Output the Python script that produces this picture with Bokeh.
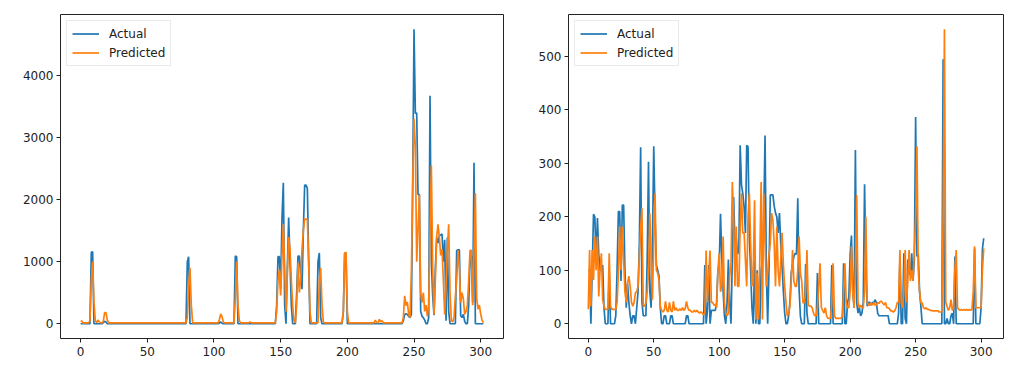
from bokeh.plotting import figure
from bokeh.layouts import row
from bokeh.models import Range1d, Legend, LegendItem, FixedTicker
from bokeh.embed import file_html
from bokeh.resources import INLINE

series_labels = ["Actual", "Predicted"]
x_ticks = [0, 50, 100, 150, 200, 250, 300]
left_y_ticks = [0, 1000, 2000, 3000, 4000]
right_y_ticks = [0, 100, 200, 300, 400, 500]

left_actual = [
    0, 0, 0, 0, 0, 0, 0, 0, 1150, 1160, 0, 0, 0, 0, 0, 0, 0, 20, 40, 30,
    0, 0, 0, 0, 0, 0, 0, 0, 0, 0, 0, 0, 0, 0, 0, 0, 0, 0, 0, 0,
    0, 0, 0, 0, 0, 0, 0, 0, 0, 0, 0, 0, 0, 0, 0, 0, 0, 0, 0, 0,
    0, 0, 0, 0, 0, 0, 0, 0, 0, 0, 0, 0, 0, 0, 0, 0, 0, 0, 0, 0,
    1000, 1080, 0, 0, 0, 0, 0, 0, 0, 0, 0, 0, 0, 0, 0, 0, 0, 0, 0, 0,
    0, 0, 0, 0, 10, 30, 10, 0, 0, 0, 0, 0, 0, 0, 0, 0, 1090, 1080, 0, 0,
    0, 0, 0, 0, 0, 0, 0, 0, 0, 0, 0, 0, 0, 0, 0, 0, 0, 0, 0, 0,
    0, 0, 0, 0, 0, 0, 0, 300, 1080, 1082, 556, 1700, 2270, 300, 0, 900, 1710, 1000, 300, 0,
    0, 0, 500, 1090, 1090, 800, 556, 1500, 2230, 2230, 2180, 1000, 0, 0, 0, 0, 0, 0, 1000, 1140,
    100, 0, 0, 0, 0, 0, 0, 0, 0, 0, 0, 0, 0, 0, 0, 0, 0, 200, 1140, 1130,
    0, 0, 0, 0, 0, 0, 0, 0, 0, 0, 0, 0, 0, 0, 0, 0, 0, 0, 0, 0,
    0, 0, 0, 0, 0, 0, 0, 0, 0, 0, 0, 0, 0, 0, 0, 0, 0, 0, 0, 0,
    0, 0, 50, 150, 160, 150, 120, 100, 150, 2200, 4740, 3390, 3390, 2080, 2080, 200, 120, 100, 60, 0,
    0, 100, 3669, 1000, 450, 137, 900, 1390, 1300, 1420, 1430, 1446, 1000, 1350, 50, 1390, 200, 0, 0, 0,
    0, 0, 1180, 1190, 1190, 130, 100, 150, 40, 0, 0, 300, 1100, 1100, 340, 2590, 0, 0, 0, 0,
    0, 0, 0,
]

left_predicted = [
    50, 40, 10, 15, 15, 15, 15, 50, 700, 1000, 350, 50, 20, 60, 30, 15, 15, 40, 180, 180,
    60, 15, 15, 15, 15, 15, 15, 15, 15, 15, 15, 15, 15, 15, 15, 15, 15, 15, 15, 15,
    15, 15, 15, 15, 15, 15, 15, 15, 15, 15, 15, 15, 15, 15, 15, 15, 15, 15, 15, 15,
    15, 15, 15, 15, 15, 15, 15, 15, 15, 15, 15, 15, 15, 15, 15, 15, 15, 15, 15, 15,
    100, 600, 900, 300, 15, 15, 15, 15, 15, 15, 15, 15, 15, 15, 15, 15, 15, 15, 15, 15,
    15, 15, 15, 15, 60, 160, 120, 30, 15, 15, 15, 15, 15, 15, 15, 15, 400, 1000, 300, 50,
    15, 15, 15, 15, 15, 15, 15, 30, 15, 15, 15, 15, 15, 15, 15, 15, 15, 15, 15, 15,
    15, 15, 15, 15, 15, 15, 15, 200, 700, 870, 457, 1100, 1606, 900, 194, 800, 1396, 1200, 700, 300,
    50, 15, 300, 976, 504, 700, 1200, 1500, 1685, 1685, 1685, 1000, 200, 15, 15, 15, 15, 15, 15, 700,
    900, 300, 30, 15, 15, 15, 15, 15, 15, 15, 15, 15, 15, 15, 15, 15, 15, 200, 1140, 1150,
    200, 15, 15, 15, 15, 15, 15, 15, 15, 15, 15, 15, 15, 15, 15, 15, 15, 15, 15, 15,
    15, 60, 20, 15, 70, 30, 50, 15, 15, 15, 15, 15, 15, 15, 15, 15, 15, 15, 15, 15,
    15, 15, 100, 450, 290, 350, 150, 100, 800, 2200, 3300, 2860, 1000, 1500, 2074, 500, 340, 500, 200, 300,
    120, 300, 1500, 2546, 900, 150, 700, 1400, 1600, 1391, 1100, 1200, 700, 150, 600, 1200, 1600, 500, 50, 30,
    100, 446, 700, 1181, 900, 340, 500, 400, 150, 200, 300, 700, 1181, 1181, 300, 1200, 2100, 400, 236, 300,
    157, 60, 20,
]

right_actual = [
    100, 100, 0, 100, 205, 200, 120, 198, 130, 100, 100, 110, 30, 0, 0, 0, 100, 0, 0, 0,
    0, 15, 100, 210, 210, 80, 222, 222, 100, 30, 75, 40, 15, 0, 15, 15, 0, 30, 60, 150,
    330, 40, 15, 15, 15, 120, 303, 60, 30, 150, 332, 200, 110, 100, 90, 30, 0, 0, 15, 15,
    0, 0, 0, 15, 15, 0, 0, 0, 0, 0, 0, 0, 0, 0, 0, 15, 15, 0, 0, 0,
    0, 0, 0, 0, 0, 0, 0, 0, 0, 110, 0, 25, 110, 0, 25, 25, 25, 25, 40, 100,
    110, 206, 120, 60, 15, 0, 40, 120, 40, 0, 120, 237, 150, 160, 130, 138, 334, 260, 244, 219,
    170, 334, 331, 163, 100, 30, 0, 120, 0, 100, 0, 0, 100, 120, 200, 352, 95, 0, 100, 241,
    241, 241, 220, 207, 200, 170, 207, 150, 107, 60, 20, 0, 0, 15, 40, 95, 110, 126, 132, 130,
    235, 64, 14, 0, 0, 0, 112, 20, 0, 0, 0, 0, 0, 0, 0, 95, 0, 0, 0, 0,
    0, 0, 0, 0, 0, 0, 110, 0, 0, 0, 0, 0, 0, 0, 0, 113, 0, 0, 40, 50,
    130, 165, 60, 30, 325, 39, 20, 30, 15, 20, 40, 261, 101, 33, 40, 40, 35, 40, 39, 45,
    40, 20, 15, 15, 15, 15, 15, 15, 15, 15, 0, 0, 0, 0, 0, 0, 0, 20, 120, 0,
    0, 132, 10, 0, 120, 100, 90, 132, 80, 120, 387, 126, 130, 60, 33, 0, 0, 0, 0, 0,
    0, 0, 0, 0, 0, 0, 0, 0, 0, 0, 0, 495, 0, 0, 10, 0, 0, 15, 20, 0,
    126, 0, 0, 0, 0, 0, 0, 0, 0, 0, 0, 0, 0, 0, 0, 141, 0, 0, 0, 0,
    30, 140, 160,
]

right_predicted = [
    27, 138, 33, 138, 82, 163, 100, 163, 51, 100, 132, 45, 33, 27, 27, 27, 132, 33, 27, 27,
    27, 27, 40, 95, 182, 100, 182, 120, 60, 40, 76, 89, 70, 40, 33, 40, 58, 60, 70, 126,
    180, 216, 33, 33, 39, 60, 95, 207, 120, 45, 150, 244, 100, 95, 82, 33, 25, 22, 25, 42,
    25, 22, 40, 25, 22, 42, 25, 30, 25, 25, 28, 25, 30, 25, 28, 42, 30, 25, 25, 22,
    22, 25, 22, 25, 22, 20, 22, 20, 17, 20, 137, 40, 90, 137, 40, 40, 35, 35, 30, 100,
    132, 60, 70, 163, 40, 20, 15, 20, 90, 110, 265, 200, 70, 182, 70, 70, 180, 244, 170, 170,
    120, 70, 200, 244, 150, 70, 100, 231, 8, 95, 8, 120, 265, 8, 244, 150, 70, 95, 130, 150,
    207, 194, 150, 70, 182, 100, 70, 120, 170, 110, 70, 40, 14, 20, 33, 80, 138, 80, 70, 70,
    100, 163, 95, 80, 39, 40, 60, 138, 35, 33, 33, 30, 20, 15, 15, 30, 70, 113, 30, 25,
    20, 30, 15, 10, 10, 10, 40, 113, 15, 10, 10, 10, 10, 10, 14, 60, 113, 40, 30, 30,
    60, 145, 60, 30, 100, 241, 40, 30, 35, 30, 30, 60, 200, 40, 35, 35, 39, 35, 40, 35,
    35, 40, 38, 42, 42, 38, 35, 40, 30, 30, 28, 24, 24, 22, 24, 30, 40, 40, 138, 40,
    30, 60, 138, 40, 80, 138, 80, 100, 80, 138, 200, 332, 101, 60, 39, 39, 30, 28, 30, 27,
    27, 25, 25, 24, 24, 24, 24, 24, 22, 22, 22, 200, 551, 40, 33, 25, 30, 45, 25, 30,
    100, 138, 30, 27, 25, 27, 25, 27, 25, 27, 25, 27, 25, 27, 60, 145, 30, 30, 30, 30,
    30, 100, 141,
]

BLUE = "#1f77b4"
ORANGE = "#ff7f0e"
FONT = "DejaVu Sans"


def make_panel(actual, predicted, yticks, width, height, bl, br, bt, bb):
    n = len(actual)
    xs = list(range(n))
    lo = min(min(actual), min(predicted))
    hi = max(max(actual), max(predicted))
    ym = (hi - lo) * 0.05
    xm = (n - 1) * 0.05
    p = figure(width=width, height=height, output_backend="svg", toolbar_location=None,
               x_range=Range1d(-xm, n - 1 + xm), y_range=Range1d(lo - ym, hi + ym),
               min_border_left=bl, min_border_right=br, min_border_top=bt, min_border_bottom=bb)
    r1 = p.line(xs, actual, line_color=BLUE, line_width=1.7)
    r2 = p.line(xs, predicted, line_color=ORANGE, line_width=1.7)

    p.xgrid.visible = False
    p.ygrid.visible = False
    p.outline_line_color = "#222222"
    p.outline_line_width = 1
    p.background_fill_color = "white"
    p.border_fill_color = "white"

    p.xaxis.ticker = FixedTicker(ticks=x_ticks)
    p.yaxis.ticker = FixedTicker(ticks=yticks)
    for ax in (p.xaxis, p.yaxis):
        ax.axis_line_color = None
        ax.major_tick_line_color = "#222222"
        ax.major_tick_out = 4
        ax.major_tick_in = 0
        ax.minor_tick_line_color = None
        ax.major_label_text_font = FONT
        ax.major_label_text_font_size = "12px"
        ax.major_label_text_color = "#222222"
    p.xaxis.major_label_standoff = 4
    p.yaxis.major_label_standoff = 3

    legend = Legend(items=[LegendItem(label=series_labels[0], renderers=[r1]),
                           LegendItem(label=series_labels[1], renderers=[r2])],
                    location="top_left")
    legend.border_line_color = "#d5d5d5"
    legend.border_line_width = 1
    legend.background_fill_color = "white"
    legend.background_fill_alpha = 0.8
    legend.label_text_font = FONT
    legend.label_text_font_size = "12px"
    legend.label_text_color = "#222222"
    legend.glyph_width = 27
    legend.glyph_height = 15
    legend.label_standoff = 10
    legend.spacing = 4
    legend.padding = 5
    legend.margin = 6
    p.add_layout(legend)
    return p


p1 = make_panel(left_actual, left_predicted, left_y_ticks, 520, 363, 60, 17, 6, 25)
p2 = make_panel(right_actual, right_predicted, right_y_ticks, 500, 363, 48, 17, 14, 24)

layout = row(p1, p2)
open("out.html", "w").write(file_html(layout, INLINE))
